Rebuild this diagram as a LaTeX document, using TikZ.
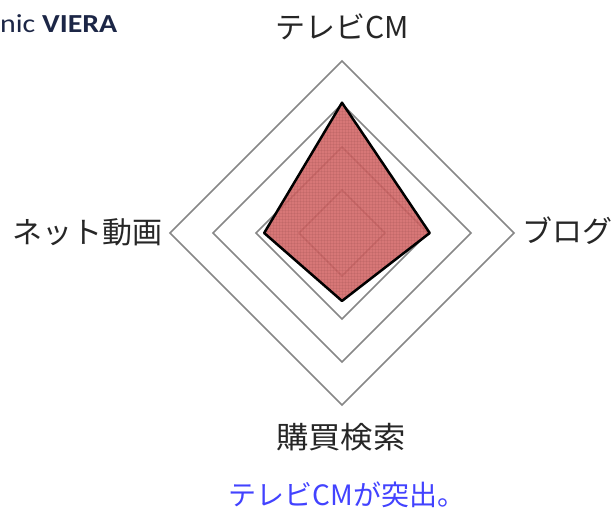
\documentclass[tikz,border=0pt]{standalone}
\usepackage{fontspec}
\setmainfont{Carlito}
\newfontfamily\jpfont{Noto Sans CJK JP}
\usepackage{tikz}
\usepackage{xcolor}
\usetikzlibrary{patterns}

\definecolor{gridgray}{RGB}{135,135,135}
\definecolor{areared}{RGB}{210,100,100}
\definecolor{noteblue}{RGB}{66,66,255}
\definecolor{brandnavy}{RGB}{28,38,70}

\begin{document}
\begin{tikzpicture}[x=43pt, y=43pt,
    axislabel/.style={font=\jpfont\fontsize{30}{36}\selectfont, text=black!85, inner sep=0pt}]
    \useasboundingbox (-342pt,-286pt) rectangle (274pt,233pt);

    % Grid diamonds (four levels)
    \foreach \r in {1,2,3,4}
        \draw[gridgray, line width=1.6pt] (0,\r) -- (\r,0) -- (0,-\r) -- (-\r,0) -- cycle;

    % The data area
    \coordinate (vTv) at (0,3.03);
    \coordinate (vBlog) at (2.04,0);
    \coordinate (vSearch) at (0,-1.58);
    \coordinate (vNet) at (-1.81,0);
    \fill[areared, opacity=0.88] (vTv) -- (vBlog) -- (vSearch) -- (vNet) -- cycle;
    \fill[pattern=grid, pattern color=areared!60!black, opacity=0.12] (vTv) -- (vBlog) -- (vSearch) -- (vNet) -- cycle;
    \draw[black, line width=2.5pt, line join=round] (vTv) -- (vBlog) -- (vSearch) -- (vNet) -- cycle;

    % Axis labels
    \node[axislabel] (tvLabel) at (0pt,206pt) {テレビCM};
    \node[axislabel] (blogLabel) at (225pt,2pt) {ブログ};
    \node[axislabel] (searchLabel) at (-1pt,-204pt) {\scalebox{1.08}[1]{購買検索}};
    \node[axislabel] (netLabel) at (-254pt,1pt) {ネット動画};

    % Brand name (cut at the left edge) and note
    \node[anchor=base west, inner sep=0pt, text=brandnavy, font=\fontsize{26}{30}\selectfont] (brand) at (-342pt,200pt) {\scalebox{1.15}[1]{nic \textbf{VIERA}}};
    \node[font=\jpfont\fontsize{28}{32}\selectfont, text=noteblue, inner sep=0pt] (note) at (5pt,-262pt) {テレビCMが突出。};
\end{tikzpicture}
\end{document}
